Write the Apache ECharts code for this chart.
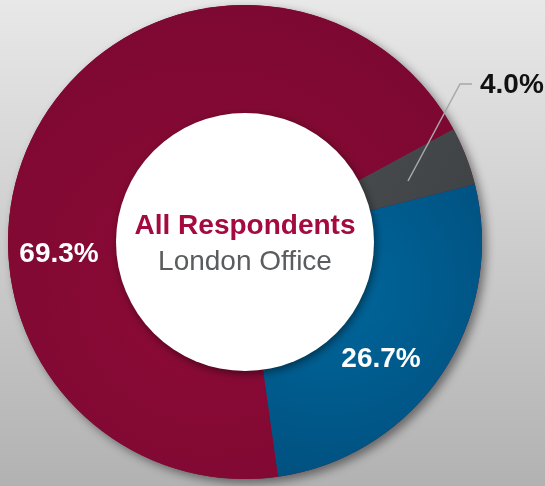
<!DOCTYPE html>
<html>
<head>
<meta charset="utf-8">
<script src="https://cdn.jsdelivr.net/npm/echarts@6/dist/echarts.min.js"></script>
<style>
html,body{margin:0;padding:0;width:545px;height:486px;overflow:hidden;}
#c{width:545px;height:486px;}
</style>
</head>
<body>
<div id="c"></div>
<script>
// ---- data ----
const categories = ['Other', 'London Office B', 'London Office A'];
const values = [4.0, 26.7, 69.3];
const centerTitle = 'All Respondents';
const centerSubtitle = 'London Office';

// ---- styles ----
const sliceColors = [
  {type:'linear',x:0,y:0,x2:1,y2:1,colorStops:[{offset:0,color:'#4c5052'},{offset:1,color:'#3e4244'}]},
  {type:'radial',x:0.35,y:0.35,r:0.9,colorStops:[{offset:0,color:'#00679d'},{offset:1,color:'#004f7d'}]},
  {type:'radial',x:0.45,y:0.6,r:0.8,colorStops:[{offset:0,color:'#8c0a36'},{offset:1,color:'#790830'}]}
];
const CX = 245, CY = 242, R_OUT = 237, R_IN = 129;
const FONT = '"Liberation Sans", Arial, sans-serif';

const chart = echarts.init(document.getElementById('c'), null, {renderer:'canvas'});
const data = categories.map((n, i) => ({
  name: n, value: values[i],
  itemStyle: {color: sliceColors[i]},
  label: i === 0
    ? {color:'#111', position:'outside'}
    : {color:'#fff', position:'inside'},
  labelLine: {show: false}
}));

chart.setOption({
  backgroundColor: {type:'linear',x:0,y:0,x2:0,y2:1,colorStops:[{offset:0,color:'#e8e8e8'},{offset:1,color:'#b2b2b2'}]},
  animation: false,
  graphic: [{
    type:'polyline', z:100, silent:true,
    shape:{points:[[CX + 163, CY - 61], [CX + 215, CY - 158], [CX + 227, CY - 158]]},
    style:{stroke:'#a8a8a8', lineWidth:1.5, fill:null}
  }],
  series: [
    { // shadow base
      type:'pie', silent:true, center:[CX,CY], radius:[0,R_OUT],
      data:[{value:1, itemStyle:{color:'#7a0830', shadowBlur:10, shadowColor:'rgba(0,0,0,0.45)', shadowOffsetX:4, shadowOffsetY:4}}],
      label:{show:false}, labelLine:{show:false}
    },
    {
      type:'pie', center:[CX,CY], radius:[0,R_OUT], startAngle:28.5, clockwise:true,
      data: data,
      itemStyle:{borderWidth:0},
      label:{show:true, fontFamily:FONT, fontWeight:'bold', fontSize:28, overflow:'none',
        formatter: p => p.value.toFixed(1) + '%'},
      labelLayout: function (p) {
        const i = p.dataIndex;
        if (i === 0) return {x: CX + 235, y: CY - 157, align:'left', verticalAlign:'middle', width: 80};
        if (i === 1) return {x: CX + 136, y: CY + 117, align:'center', verticalAlign:'middle'};
        return {x: CX - 186, y: CY + 12, align:'center', verticalAlign:'middle'};
      }
    },
    { // white center disc
      type:'pie', silent:true, center:[CX,CY], radius:[0,R_IN],
      data:[{value:1, name: centerTitle, itemStyle:{color:'#ffffff', shadowBlur:8, shadowColor:'rgba(0,0,0,0.45)', shadowOffsetX:2, shadowOffsetY:3}}],
      label:{show:true, position:'center',
        formatter: '{a|' + centerTitle + '}\n{b|' + centerSubtitle + '}',
        rich:{
          a:{fontFamily:FONT, fontWeight:'bold', fontSize:28, color:'#a4093f', lineHeight:36, padding:[4,0,0,0]},
          b:{fontFamily:FONT, fontSize:28, color:'#5a5c5e', lineHeight:36, padding:[4,0,0,0]}
        }
      },
      labelLine:{show:false}
    }
  ]
});
</script>
</body>
</html>
